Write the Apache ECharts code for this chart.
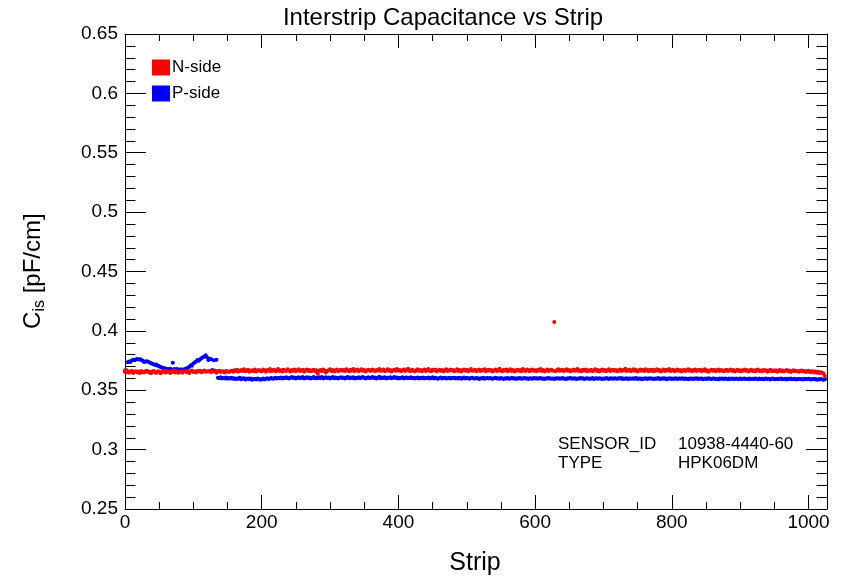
<!DOCTYPE html>
<html>
<head>
<meta charset="utf-8">
<script src="https://cdn.jsdelivr.net/npm/echarts@6/dist/echarts.min.js"></script>
<style>
html,body{margin:0;padding:0;background:#fff;}
#chart{width:846px;height:581px;}
</style>
</head>
<body>
<div id="chart"></div>
<script>
// Strip numbering of the sampled points: strip = stripStart + index * stripStep
var stripStart = 0;
var stripStep = 2;

// N-side interstrip capacitance, units of 1e-4 pF/cm
var nSide = [
3668,3652,3660,3648,3657,3662,3645,3655,3661,3650,3658,3646,3663,3654,3649,3659,3665,3651,3656,3644,
3657,3662,3650,3647,3660,3655,3643,3658,3664,3652,3649,3661,3656,3645,3659,3653,3666,3650,3657,3648,
3654,3661,3647,3659,3663,3651,3656,3645,3660,3666,3653,3658,3649,3662,3657,3664,3652,3659,3667,3655,
3661,3657,3665,3652,3660,3663,3656,3648,3659,3664,3654,3661,3658,3650,3662,3657,3653,3660,3664,3655,
3668,3660,3673,3657,3665,3670,3662,3676,3659,3667,3672,3655,3664,3669,3661,3674,3658,3666,3671,3663,
3660,3675,3667,3656,3670,3664,3678,3661,3668,3673,3659,3666,3680,3663,3669,3657,3672,3665,3662,3676,
3667,3658,3671,3664,3674,3660,3669,3677,3662,3666,3672,3655,3668,3675,3663,3670,3659,3666,3673,3661,
3668,3640,3664,3671,3660,3674,3666,3650,3662,3669,3677,3663,3670,3658,3667,3675,3661,3668,3673,3665,
3670,3662,3676,3667,3659,3672,3665,3679,3663,3669,3674,3660,3668,3677,3664,3671,3658,3666,3673,3669,
3662,3675,3668,3660,3671,3666,3680,3663,3669,3674,3661,3667,3676,3664,3670,3657,3668,3673,3665,3678,
3666,3671,3659,3668,3675,3663,3670,3682,3665,3661,3673,3667,3658,3669,3676,3664,3671,3660,3667,3674,
3663,3670,3678,3665,3659,3672,3668,3675,3661,3666,3673,3664,3670,3657,3668,3677,3662,3669,3674,3666,
3671,3660,3667,3676,3663,3670,3658,3668,3674,3665,3672,3661,3669,3679,3664,3667,3673,3659,3668,3675,
3662,3670,3666,3677,3660,3668,3673,3664,3671,3657,3667,3675,3663,3669,3681,3665,3660,3672,3667,3674,
3661,3668,3676,3663,3670,3658,3666,3673,3665,3671,3660,3678,3667,3662,3674,3668,3659,3670,3675,3664,
3669,3661,3673,3666,3678,3663,3670,3658,3667,3675,3662,3669,3672,3665,4075,3660,3671,3677,3664,3668,
3673,3662,3668,3676,3664,3670,3659,3667,3674,3665,3671,3679,3663,3668,3661,3672,3666,3675,3660,3669,
3665,3673,3661,3668,3677,3663,3670,3657,3667,3674,3664,3671,3660,3668,3676,3662,3669,3673,3665,3670,
3659,3667,3675,3663,3670,3666,3681,3662,3668,3673,3660,3669,3676,3664,3671,3658,3667,3674,3665,3670,
3662,3676,3668,3660,3672,3665,3673,3661,3669,3677,3664,3670,3657,3667,3674,3663,3671,3666,3678,3662,
3668,3673,3660,3667,3675,3664,3670,3658,3666,3673,3662,3669,3676,3665,3671,3659,3668,3674,3663,3670,
3666,3672,3660,3668,3677,3663,3669,3656,3667,3673,3664,3670,3661,3668,3675,3662,3671,3666,3659,3669,
3673,3662,3668,3675,3664,3670,3658,3667,3672,3663,3669,3660,3666,3674,3665,3671,3657,3667,3672,3663,
3668,3661,3670,3674,3663,3666,3659,3671,3665,3668,3656,3664,3672,3660,3667,3662,3669,3655,3664,3670,
3661,3667,3658,3665,3670,3660,3666,3654,3663,3668,3659,3665,3661,3656,3664,3667,3657,3662,3653,3660,
3664,3652,3658,3661,3650,3657,3648,3655,3645,3652,3647,3640,3620
];

// P-side interstrip capacitance, units of 1e-4 pF/cm
var pSide = [
3655,3668,3735,3742,3738,3750,3756,3752,3760,3764,3758,3762,3755,3748,3737,3742,3745,3739,3733,3728,
3724,3718,3713,3716,3707,3702,3695,3691,3688,3685,3682,3679,3676,3681,3674,3732,3678,3672,3680,3675,
3670,3677,3668,3674,3679,3684,3690,3698,3710,3706,3725,3734,3742,3754,3748,3762,3770,3778,3785,3794,
3778,3755,3766,3761,3670,3752,3665,3756,3606,3601,3609,3598,3604,3600,3607,3596,3603,3599,3605,3597,
3602,3594,3600,3597,3605,3592,3598,3601,3590,3596,3599,3593,3600,3588,3595,3597,3591,3598,3594,3589,
3593,3598,3590,3596,3601,3594,3599,3603,3597,3600,3606,3598,3604,3601,3608,3599,3605,3602,3609,3603,
3600,3606,3611,3603,3607,3598,3605,3609,3602,3606,3612,3600,3604,3610,3603,3607,3599,3605,3611,3602,
3606,3601,3609,3604,3612,3598,3606,3610,3603,3607,3600,3605,3611,3602,3608,3604,3599,3606,3610,3603,
3607,3600,3605,3612,3602,3608,3604,3610,3599,3606,3603,3609,3601,3607,3611,3604,3598,3606,3609,3602,
3605,3611,3603,3608,3600,3606,3613,3602,3607,3604,3610,3599,3606,3603,3609,3601,3605,3611,3604,3607,
3600,3606,3603,3609,3598,3605,3608,3601,3604,3610,3602,3606,3599,3603,3608,3600,3605,3602,3607,3598,
3604,3601,3607,3599,3603,3609,3600,3605,3602,3597,3604,3608,3600,3603,3606,3598,3602,3605,3599,3604,
3601,3606,3598,3603,3600,3605,3596,3602,3607,3599,3604,3601,3597,3603,3606,3600,3598,3604,3601,3595,
3602,3599,3605,3597,3601,3604,3598,3603,3600,3596,3602,3606,3599,3601,3597,3604,3600,3595,3602,3598,
3603,3597,3600,3605,3598,3601,3594,3602,3599,3604,3596,3600,3603,3598,3601,3595,3602,3599,3597,3603,
3599,3602,3596,3601,3604,3597,3600,3594,3602,3598,3603,3596,3600,3599,3595,3602,3598,3601,3596,3600,
3603,3597,3600,3595,3601,3598,3604,3596,3599,3602,3594,3600,3597,3603,3598,3601,3595,3599,3602,3596,
3600,3597,3603,3595,3599,3601,3596,3602,3598,3594,3600,3597,3603,3599,3595,3601,3598,3596,3602,3599,
3596,3601,3598,3603,3595,3599,3597,3602,3594,3600,3598,3596,3601,3597,3603,3595,3599,3598,3593,3600,
3597,3602,3595,3599,3601,3596,3598,3594,3600,3597,3603,3595,3599,3596,3601,3598,3593,3600,3597,3602,
3595,3599,3597,3601,3594,3598,3600,3596,3602,3595,3598,3597,3593,3600,3596,3599,3594,3598,3601,3595,
3598,3596,3600,3593,3597,3599,3595,3601,3596,3594,3598,3600,3595,3597,3592,3599,3596,3598,3594,3600,
3596,3593,3598,3595,3600,3597,3594,3599,3596,3592,3598,3595,3597,3600,3594,3596,3593,3598,3595,3597,
3594,3599,3596,3592,3598,3595,3597,3593,3596,3599,3594,3597,3591,3596,3598,3593,3595,3597,3592,3596,
3598,3593,3595,3597,3591,3596,3594,3598,3592,3595,3597,3590,3594,3596,3593,3595,3591,3597,3594,3592,
3596,3593,3590,3595,3592,3594,3589,3593,3591,3594,3590,3588,3592
];

var valueScale = 10000;
var seriesNames = ['N-side', 'P-side'];
var xTickLabels = ['0', '200', '400', '600', '800', '1000'];
var yTickLabels = ['0.25', '0.3', '0.35', '0.4', '0.45', '0.5', '0.55', '0.6', '0.65'];
var titleText = 'Interstrip Capacitance vs Strip';
var infoLines = [['SENSOR_ID', '10938-4440-60'], ['TYPE', 'HPK06DM']];

function toPoints(arr) {
  return arr.map(function (v, i) { return [stripStart + i * stripStep, v / valueScale]; });
}

var FONT = '"Liberation Sans", Arial, Helvetica, sans-serif';
var chart = echarts.init(document.getElementById('chart'), null, {renderer: 'canvas'});

var xBase = {
  type: 'value', min: 0, max: 1027, interval: 200,
  splitLine: {show: false},
  axisLine: {show: true, onZero: false, lineStyle: {color: '#000', width: 1}},
  axisTick: {show: true, inside: true, length: 14, lineStyle: {color: '#000'}},
  minorTick: {show: true, splitNumber: 4, length: 7, lineStyle: {color: '#000'}}
};
var yBase = {
  type: 'value', min: 0.25, max: 0.65, interval: 0.05,
  splitLine: {show: false},
  axisLine: {show: true, onZero: false, lineStyle: {color: '#000', width: 1}},
  axisTick: {show: true, inside: true, length: 21, lineStyle: {color: '#000'}},
  minorTick: {show: true, splitNumber: 5, length: 10.5, lineStyle: {color: '#000'}}
};

var option = {
  backgroundColor: '#fff',
  animation: false,
  grid: {left: 125, right: 19, top: 34, bottom: 72, containLabel: false},
  xAxis: [
    Object.assign({}, xBase, {
      position: 'bottom',
      axisLabel: {
        show: true, margin: 4, color: '#000', fontFamily: FONT, fontSize: 19,
        showMaxLabel: false,
        formatter: function (v) {
          var s = String(Math.round(v));
          return xTickLabels.indexOf(s) >= 0 ? s : '';
        }
      }
    }),
    Object.assign({}, xBase, {position: 'top', axisLabel: {show: false}})
  ],
  yAxis: [
    Object.assign({}, yBase, {
      position: 'left',
      axisLabel: {
        show: true, margin: 7, color: '#000', fontFamily: FONT, fontSize: 19,
        formatter: function (v) {
          var s = String(+v.toFixed(2));
          return yTickLabels.indexOf(s) >= 0 ? s : '';
        }
      }
    }),
    Object.assign({}, yBase, {position: 'right', axisLabel: {show: false}})
  ],
  legend: {
    orient: 'vertical', left: 147, top: 54,
    itemWidth: 18, itemHeight: 16, itemGap: 9,
    icon: 'rect',
    selectedMode: false,
    textStyle: {color: '#000', fontFamily: FONT, fontSize: 17, padding: [0, 0, 0, -3]},
    data: seriesNames
  },
  series: [
    {
      name: seriesNames[0], type: 'scatter', xAxisIndex: 0, yAxisIndex: 0,
      symbol: 'circle', symbolSize: 4,
      itemStyle: {color: '#ff0000', opacity: 1},
      data: toPoints(nSide), z: 3
    },
    {
      name: seriesNames[1], type: 'scatter', xAxisIndex: 0, yAxisIndex: 0,
      symbol: 'circle', symbolSize: 4,
      itemStyle: {color: '#0000ff', opacity: 1},
      data: toPoints(pSide), z: 2
    }
  ],
  graphic: [
    {
      type: 'text', x: 443, y: 18,
      style: {text: titleText, fill: '#000', font: '24px ' + FONT, textAlign: 'center', textVerticalAlign: 'middle'}
    },
    {
      type: 'text', x: 475, y: 563,
      style: {text: 'Strip', fill: '#000', font: '25px ' + FONT, textAlign: 'center', textVerticalAlign: 'middle'}
    },
    {
      type: 'group', x: 33, y: 271, rotation: Math.PI / 2,
      children: [
        {type: 'text', x: -58, y: 0, style: {text: 'C', fill: '#000', font: '24px ' + FONT, textAlign: 'left', textVerticalAlign: 'middle'}},
        {type: 'text', x: -40.5, y: 7, style: {text: 'is', fill: '#000', font: '16px ' + FONT, textAlign: 'left', textVerticalAlign: 'middle'}},
        {type: 'text', x: -29, y: 0, style: {text: ' [pF/cm]', fill: '#000', font: '24px ' + FONT, textAlign: 'left', textVerticalAlign: 'middle'}}
      ]
    },
    {
      type: 'text', x: 558, y: 444,
      style: {text: infoLines[0][0], fill: '#000', font: '17px ' + FONT, textAlign: 'left', textVerticalAlign: 'middle'}
    },
    {
      type: 'text', x: 678, y: 444,
      style: {text: infoLines[0][1], fill: '#000', font: '17px ' + FONT, textAlign: 'left', textVerticalAlign: 'middle'}
    },
    {
      type: 'text', x: 558, y: 463,
      style: {text: infoLines[1][0], fill: '#000', font: '17px ' + FONT, textAlign: 'left', textVerticalAlign: 'middle'}
    },
    {
      type: 'text', x: 678, y: 463,
      style: {text: infoLines[1][1], fill: '#000', font: '17px ' + FONT, textAlign: 'left', textVerticalAlign: 'middle'}
    }
  ]
};
chart.setOption(option);
</script>
</body>
</html>
